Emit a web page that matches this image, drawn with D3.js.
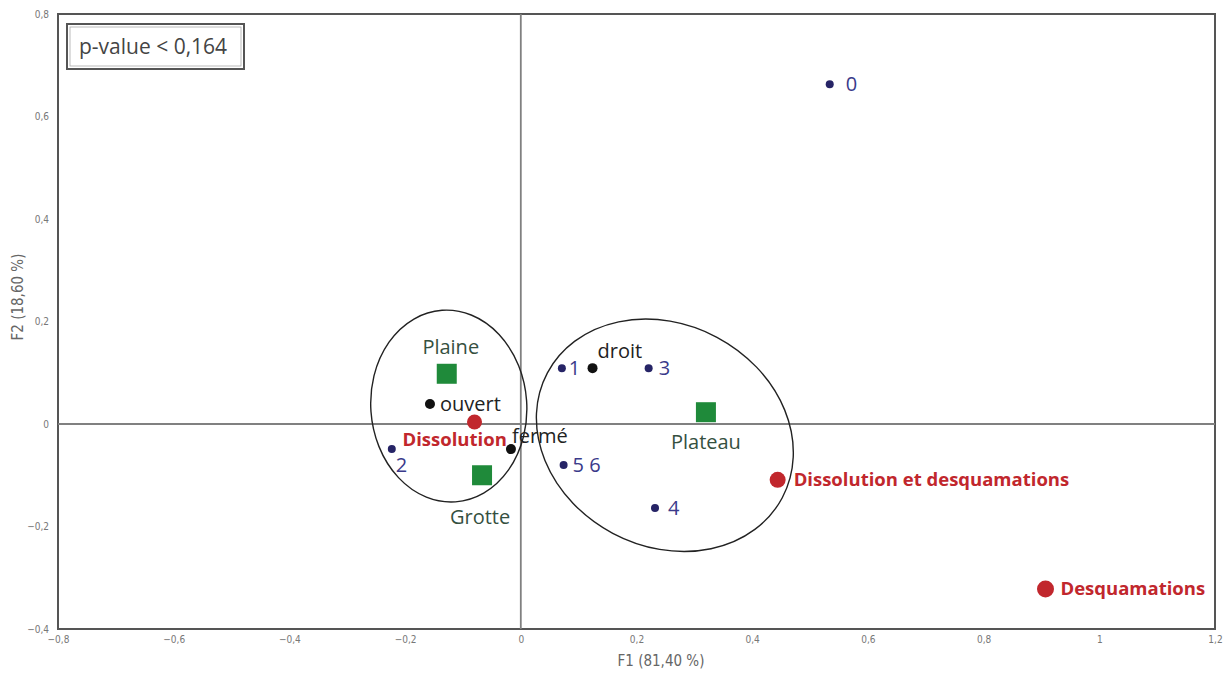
<!DOCTYPE html>
<html><head><meta charset="utf-8">
<script src="https://cdn.jsdelivr.net/npm/d3@7"></script>
<style>
html,body{margin:0;padding:0;background:#fff;}
svg text{font-family:"Open Sans","Noto Sans",sans-serif;}
</style></head>
<body>
<svg id="chart" width="1223" height="673"></svg>
<script>
// ---- data ----
const xTicks = [-0.8,-0.6,-0.4,-0.2,0,0.2,0.4,0.6,0.8,1,1.2];
const yTicks = [-0.4,-0.2,0,0.2,0.4,0.6,0.8];
const xTitle = "F1 (81,40 %)";
const yTitle = "F2 (18,60 %)";
const pValueText = "p-value < 0,164";

// supplementary numeric categories (blue)
const numLabels = ["0","1","2","3","4","5 6"];
const numX = [0.534, 0.071, -0.223, 0.221, 0.232, 0.074];
const numY = [0.663, 0.109, -0.049, 0.109, -0.164, -0.080];

// shape categories (black)
const shapeLabels = ["droit","ouvert","fermé"];
const shapeX = [0.124, -0.157, -0.017];
const shapeY = [0.109, 0.039, -0.049];

// site categories (green squares)
const siteLabels = ["Plaine","Grotte","Plateau"];
const siteX = [-0.128, -0.067, 0.320];
const siteY = [0.098, -0.100, 0.023];

// alteration categories (red)
const altLabels = ["Dissolution","Dissolution et desquamations","Desquamations"];
const altX = [-0.080, 0.444, 0.907];
const altY = [0.004, -0.109, -0.322];

// group ellipse centres (data units)
const groupX = [-0.1245, 0.249];
const groupY = [0.035, -0.022];

// ---- drawing ----
const svg = d3.select("#chart");
const L = 58, R = 1215, T = 14, B = 629;
const x = d3.scaleLinear().domain([-0.8,1.2]).range([L,R]);
const y = d3.scaleLinear().domain([-0.4,0.8]).range([B,T]);
const fmt = d => d3.format("")(+d.toFixed(1)).replace(".",",");
const narrow = "'Liberation Sans Narrow','DejaVu Sans Condensed',sans-serif";

// frame
svg.append("rect").attr("x",L).attr("y",T).attr("width",R-L).attr("height",B-T)
  .attr("fill","#fff").attr("stroke","#555").attr("stroke-width",2);

// tick labels
const gx = svg.append("g").attr("transform",`translate(0,${B})`)
  .call(d3.axisBottom(x).tickValues(xTicks).tickSize(0).tickPadding(7).tickFormat(fmt));
gx.select(".domain").remove();
gx.selectAll("text").attr("fill","#777").style("font-size","10px").style("font-family",narrow);
const gy = svg.append("g").attr("transform",`translate(${L},0)`)
  .call(d3.axisLeft(y).tickValues(yTicks).tickSize(0).tickPadding(9).tickFormat(fmt));
gy.select(".domain").remove();
gy.selectAll("text").attr("fill","#777").style("font-size","10px").style("font-family",narrow);

// zero lines
svg.append("line").attr("x1",x(0)).attr("x2",x(0)).attr("y1",T).attr("y2",B).attr("stroke","#808080").attr("stroke-width",1.8);
svg.append("line").attr("x1",L).attr("x2",R).attr("y1",y(0)).attr("y2",y(0)).attr("stroke","#808080").attr("stroke-width",1.8);

// axis titles
svg.append("text").attr("x",661).attr("y",666).attr("text-anchor","middle")
  .attr("fill","#666").style("font-size","15px").style("font-family",narrow).text(xTitle);
svg.append("text").attr("transform",`translate(23,297) rotate(-90)`).attr("text-anchor","middle")
  .attr("fill","#666").style("font-size","15px").style("font-family",narrow).text(yTitle);

// p-value box
svg.append("rect").attr("x",67).attr("y",24).attr("width",177).attr("height",45)
  .attr("fill","#fff").attr("stroke","#555").attr("stroke-width",2);
svg.append("rect").attr("x",70).attr("y",27).attr("width",171).attr("height",39)
  .attr("fill","none").attr("stroke","#aaa").attr("stroke-width",0.8);
svg.append("text").attr("x",79).attr("y",54).attr("fill","#444").style("font-size","21px").text(pValueText);

// group ellipses
const ellRx = [78, 133], ellRy = [96, 111], ellRot = [-4, 28];
svg.selectAll(".grp").data(d3.range(groupX.length)).join("ellipse")
  .attr("cx",i=>x(groupX[i])).attr("cy",i=>y(groupY[i]))
  .attr("rx",i=>ellRx[i]).attr("ry",i=>ellRy[i])
  .attr("transform",i=>`rotate(${ellRot[i]} ${x(groupX[i])} ${y(groupY[i])})`)
  .attr("fill","none").attr("stroke","#222").attr("stroke-width",1.4);

// green squares
const sq = 20;
svg.selectAll(".site").data(d3.range(siteLabels.length)).join("rect")
  .attr("x",i=>x(siteX[i])-sq/2).attr("y",i=>y(siteY[i])-sq/2).attr("width",sq).attr("height",sq)
  .attr("fill","#1f8a3a");
const siteOff = [[4,-27],[-2,42],[0,30]];
svg.selectAll(".siteLab").data(d3.range(siteLabels.length)).join("text")
  .attr("x",i=>x(siteX[i])+siteOff[i][0]).attr("y",i=>y(siteY[i])+siteOff[i][1]+7)
  .attr("text-anchor","middle").attr("fill","#35503f").style("font-size","20px").text(i=>siteLabels[i]);

// blue points
svg.selectAll(".num").data(d3.range(numLabels.length)).join("circle")
  .attr("cx",i=>x(numX[i])).attr("cy",i=>y(numY[i])).attr("r",4).attr("fill","#262466");
const numOff = [[16,0],[7,0],[4,16],[10,0],[13,0],[9,0]];
svg.selectAll(".numLab").data(d3.range(numLabels.length)).join("text")
  .attr("x",i=>x(numX[i])+numOff[i][0]).attr("y",i=>y(numY[i])+numOff[i][1]+7)
  .attr("fill","#3a3a8a").style("font-size","20px").text(i=>numLabels[i]);

// black points
svg.selectAll(".shape").data(d3.range(shapeLabels.length)).join("circle")
  .attr("cx",i=>x(shapeX[i])).attr("cy",i=>y(shapeY[i])).attr("r",5).attr("fill","#111");
const shapeOff = [[5,-17],[10,0],[1,-13]];
svg.selectAll(".shapeLab").data(d3.range(shapeLabels.length)).join("text")
  .attr("x",i=>x(shapeX[i])+shapeOff[i][0]).attr("y",i=>y(shapeY[i])+shapeOff[i][1]+7)
  .attr("fill","#222").style("font-size","20px").text(i=>shapeLabels[i]);

// red points
const altR = [7.5,8,8.5];
svg.selectAll(".alt").data(d3.range(altLabels.length)).join("circle")
  .attr("cx",i=>x(altX[i])).attr("cy",i=>y(altY[i])).attr("r",i=>altR[i]).attr("fill","#c1272d");
const altOff = [[-72,18],[16,0],[15,0]];
svg.selectAll(".altLab").data(d3.range(altLabels.length)).join("text")
  .attr("x",i=>x(altX[i])+altOff[i][0]).attr("y",i=>y(altY[i])+altOff[i][1]+6)
  .attr("fill","#c1272d").style("font-size","18.5px").style("font-weight","bold").text(i=>altLabels[i]);
</script>
</body></html>
